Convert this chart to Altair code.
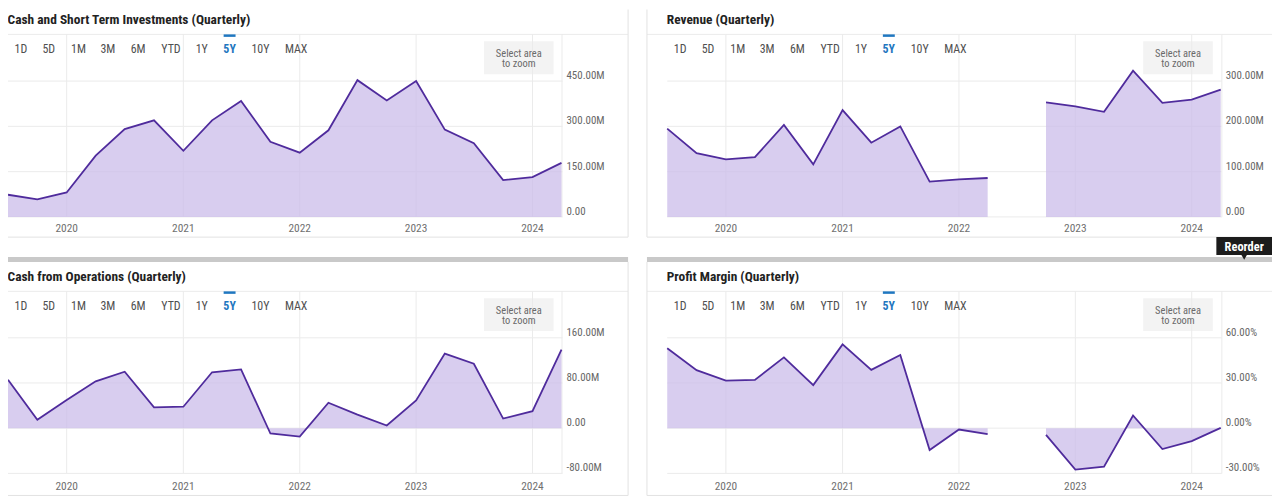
import altair as alt
import pandas as pd

# ---------------- data ----------------
dates = ["2019-07-01", "2019-10-01", "2020-01-01", "2020-04-01", "2020-07-01",
         "2020-10-01", "2021-01-01", "2021-04-01", "2021-07-01", "2021-10-01",
         "2022-01-01", "2022-04-01", "2022-07-01", "2022-10-01", "2023-01-01",
         "2023-04-01", "2023-07-01", "2023-10-01", "2024-01-01", "2024-04-01"]

cash_st = [73.5, 58, 81, 203, 291, 320, 219, 320, 384, 249,
           213, 287, 453, 386, 450, 289, 244, 122, 132, 179]          # M
revenue = [195, 141, 127, 132, 203, 116, 236, 164, 200, 78,
           83, 86, None, 253, 244, 232, 323, 252, 259, 281]           # M
cfo = [85.6, 15, 50, 83, 100, 37, 38, 99, 104, -9.4,
       -15, 45, 24, 4.7, 49, 132, 114, 17, 30, 139]                   # M
margin = [53, 38.5, 31.6, 32, 47, 28.6, 55.6, 38.7, 48.6, -14.5,
          -0.9, -4, None, -4.4, -27.5, -25.5, 8.4, -13.8, -8.6, 0.2]  # %

year_labels = ["2020", "2021", "2022", "2023", "2024"]
year_dates = ["2020-01-01", "2021-01-01", "2022-01-01", "2023-01-01", "2024-01-01"]

cash_ticks = [0, 150, 300, 450]
cash_tick_labels = ["0.00", "150.00M", "300.00M", "450.00M"]
rev_ticks = [0, 100, 200, 300]
rev_tick_labels = ["0.00", "100.00M", "200.00M", "300.00M"]
cfo_ticks = [-80, 0, 80, 160]
cfo_tick_labels = ["-80.00M", "0.00", "80.00M", "160.00M"]
margin_ticks = [-30, 0, 30, 60]
margin_tick_labels = ["-30.00%", "0.00%", "30.00%", "60.00%"]

titles = ["Cash and Short Term Investments (Quarterly)", "Revenue (Quarterly)",
          "Cash from Operations (Quarterly)", "Profit Margin (Quarterly)"]
range_buttons = ["1D", "5D", "1M", "3M", "6M", "YTD", "1Y", "5Y", "10Y", "MAX"]
active_button = "5Y"

# ---------------- style ----------------
NARROW = "'Roboto Condensed', 'Liberation Sans Narrow', 'Arial Narrow', 'DejaVu Sans Condensed', Roboto, sans-serif"
LINE = "#4f2b9c"
FILL = "#cbbcea"
GRID = "#ebebeb"
BORDER = "#e2e2e2"
LBL = "#666666"


def dt(s):
    y, m, d = (int(p) for p in s.split("-"))
    return alt.DateTime(year=y, month=m, date=d, utc=True)


def series_df(vals):
    rows, seg = [], 0
    for d, v in zip(dates, vals):
        if v is None:
            seg += 1
            continue
        rows.append({"d": d, "v": v, "seg": seg})
    return pd.DataFrame(rows)


def make_panel(vals, ydom, ticks, tick_labels, x0, x1, ybot, ytop, grid_top, label_x, xlab_y):
    xs = alt.Scale(type="utc", domain=[dt(dates[0]), dt(dates[-1])], range=[x0, x1])
    ys = alt.Scale(domain=ydom, range=[ybot, ytop], nice=False, zero=False)
    sdf = series_df(vals)
    tdf = pd.DataFrame({"v": ticks, "t": tick_labels})
    ydf = pd.DataFrame({"d": year_dates, "y": year_labels})

    vgrid = alt.Chart(ydf).mark_rule(color=GRID, strokeWidth=1).encode(
        x=alt.X("d:T", scale=xs, axis=None),
        y=alt.value(grid_top), y2=alt.value(ybot))
    hgrid = alt.Chart(tdf).mark_rule(color=GRID, strokeWidth=1).encode(
        y=alt.Y("v:Q", scale=ys, axis=None),
        x=alt.value(x0), x2=alt.value(x1 + 1))
    area = alt.Chart(sdf).mark_area(color=FILL, opacity=0.75).encode(
        x=alt.X("d:T", scale=xs, axis=None),
        y=alt.Y("v:Q", scale=ys, axis=None),
        y2=alt.datum(0),
        detail="seg:N")
    line = alt.Chart(sdf).mark_line(color=LINE, strokeWidth=1.8).encode(
        x=alt.X("d:T", scale=xs, axis=None),
        y=alt.Y("v:Q", scale=ys, axis=None),
        detail="seg:N")
    ylab = alt.Chart(tdf).mark_text(align="left", baseline="middle", dy=-5, font=NARROW,
                                     fontSize=11, color=LBL).encode(
        y=alt.Y("v:Q", scale=ys, axis=None), x=alt.value(label_x), text="t:N")
    xlab = alt.Chart(ydf).mark_text(align="center", baseline="middle", font=NARROW,
                                     fontSize=11.5, color="#707070").encode(
        x=alt.X("d:T", scale=xs, axis=None), y=alt.value(xlab_y), text="y:N")
    return alt.layer(vgrid, hgrid, area, line, ylab, xlab)


# ---------------- panel geometry (content px) ----------------
DX = 663.4
DY = 258.6
LX0, LX1 = 0, 557
TOP_BOT, TOP_TOP = 208.7, 26.4
BOT_BOT, BOT_TOP = 466.8, 284.8

p1 = make_panel(cash_st, [0, 600], cash_ticks, cash_tick_labels, LX0, LX1,
                TOP_BOT, TOP_TOP, 25, 562, 221)
p2 = make_panel(revenue, [0, 400], rev_ticks, rev_tick_labels, LX0 + DX, LX1 + DX,
                TOP_BOT, TOP_TOP, 25, 562 + DX, 221)
p3 = make_panel(cfo, [-80, 240], cfo_ticks, cfo_tick_labels, LX0, LX1,
                BOT_BOT, BOT_TOP, 25 + DY, 562, 480)
p4 = make_panel(margin, [-30, 90], margin_ticks, margin_tick_labels, LX0 + DX, LX1 + DX,
                BOT_BOT, BOT_TOP, 25 + DY, 562 + DX, 480)

# ---------------- decorations ----------------
offsets = [(0, 0), (DX, 0), (0, DY), (DX, DY)]
btn_x = [13, 41, 71, 100.5, 131, 164, 195, 223, 254, 290]

title_rows, btn_rows, act_rows, bar_rows, box_rows, boxtxt_rows = [], [], [], [], [], []
for (ox, oy), t in zip(offsets, titles):
    title_rows.append({"x": ox - 0.5, "y": 15 + oy, "t": t})
    for bx, b in zip(btn_x, range_buttons):
        row = {"x": bx + ox, "y": 40 + oy, "t": b}
        (act_rows if b == active_button else btn_rows).append(row)
    bar_rows.append({"x": 217 + ox, "x2": 229 + ox, "y": 25 + oy, "y2": 27.5 + oy})
    box_rows.append({"x": 479 + ox, "x2": 549 + ox, "y": 32 + oy, "y2": 65 + oy})
    boxtxt_rows.append({"x": 514 + ox, "y": 44.7 + oy, "t": "Select area"})
    boxtxt_rows.append({"x": 514 + ox, "y": 55.3 + oy, "t": "to zoom"})

rule_rows = [
    # separators under titles
    {"x": 0, "x2": 624, "y": 25, "y2": 25, "c": "sep"},
    {"x": 643, "x2": 1272, "y": 25, "y2": 25, "c": "sep"},
    {"x": 0, "x2": 624, "y": 25 + DY, "y2": 25 + DY, "c": "sep"},
    {"x": 643, "x2": 1272, "y": 25 + DY, "y2": 25 + DY, "c": "sep"},
    # panel borders
    {"x": 624, "x2": 624, "y": 0, "y2": 229, "c": "b"},
    {"x": 0, "x2": 624, "y": 229, "y2": 229, "c": "b"},
    {"x": 643, "x2": 643, "y": 0, "y2": 229, "c": "b"},
    {"x": 643, "x2": 1272, "y": 229, "y2": 229, "c": "b"},
    {"x": 624, "x2": 624, "y": 254, "y2": 489, "c": "b"},
    {"x": 0, "x2": 624, "y": 489, "y2": 489, "c": "b"},
    {"x": 643, "x2": 643, "y": 254, "y2": 489, "c": "b"},
    {"x": 643, "x2": 1272, "y": 489, "y2": 489, "c": "b"},
    # plot right edges
    {"x": 557.5, "x2": 557.5, "y": 25, "y2": 209, "c": "sep"},
    {"x": 1221.5, "x2": 1221.5, "y": 25, "y2": 209, "c": "sep"},
    {"x": 557.5, "x2": 557.5, "y": 25 + DY, "y2": 467, "c": "sep"},
    {"x": 1221.5, "x2": 1221.5, "y": 25 + DY, "y2": 467, "c": "sep"},
]
graybar_rows = [
    {"x": 0, "x2": 624, "y": 249, "y2": 254},
    {"x": 643, "x2": 1272, "y": 249, "y2": 254},
]


def X(f="x"):
    return alt.X(f"{f}:Q", scale=None, axis=None)


def Y(f="y"):
    return alt.Y(f"{f}:Q", scale=None, axis=None)


boxes = alt.Chart(pd.DataFrame(box_rows)).mark_rect(color="#f3f3f3").encode(
    x=X(), x2="x2:Q", y=Y(), y2="y2:Q")
graybars = alt.Chart(pd.DataFrame(graybar_rows)).mark_rect(color="#c9c9c9").encode(
    x=X(), x2="x2:Q", y=Y(), y2="y2:Q")
rules = alt.Chart(pd.DataFrame(rule_rows)).mark_rule(strokeWidth=1).encode(
    x=X(), x2="x2:Q", y=Y(), y2="y2:Q",
    color=alt.Color("c:N", scale=alt.Scale(domain=["sep", "b"], range=[GRID, BORDER]), legend=None))
title_txt = alt.Chart(pd.DataFrame(title_rows)).mark_text(
    align="left", baseline="alphabetic", font=NARROW, fontSize=13.5, fontWeight="bold",
    color="#222222").encode(x=X(), y=Y(), text="t:N")
btn_txt = alt.Chart(pd.DataFrame(btn_rows)).mark_text(
    align="center", baseline="middle", font=NARROW, fontSize=12, color="#505050").encode(
    x=X(), y=Y(), text="t:N")
act_txt = alt.Chart(pd.DataFrame(act_rows)).mark_text(
    align="center", baseline="middle", font=NARROW, fontSize=12, fontWeight="bold",
    color="#1f77c0").encode(x=X(), y=Y(), text="t:N")
act_bar = alt.Chart(pd.DataFrame(bar_rows)).mark_rect(color="#1f77c0").encode(
    x=X(), x2="x2:Q", y=Y(), y2="y2:Q")
box_txt = alt.Chart(pd.DataFrame(boxtxt_rows)).mark_text(
    align="center", baseline="middle", font=NARROW, fontSize=10.5, color="#6a6a6a").encode(
    x=X(), y=Y(), text="t:N")

reorder_box = alt.Chart(pd.DataFrame([{"x": 1216, "x2": 1272, "y": 229, "y2": 247}])).mark_rect(
    color="#1c1c1c").encode(x=X(), x2="x2:Q", y=Y(), y2="y2:Q")
reorder_tip = alt.Chart(pd.DataFrame([{"x": 1244, "y": 249}])).mark_point(
    shape="triangle-down", filled=True, size=40, color="#1c1c1c", opacity=1).encode(x=X(), y=Y())
reorder_txt = alt.Chart(pd.DataFrame([{"x": 1244, "y": 238.5, "t": "Reorder"}])).mark_text(
    align="center", baseline="middle", font=NARROW, fontSize=12.5, fontWeight="bold",
    color="white").encode(x=X(), y=Y(), text="t:N")

chart = alt.layer(
    boxes, graybars, rules,
    p1, p2, p3, p4,
    title_txt, btn_txt, act_txt, act_bar, box_txt,
    reorder_box, reorder_tip, reorder_txt,
).resolve_scale(x="independent", y="independent", color="independent").properties(
    width=1272, height=491, autosize=alt.AutoSizeParams(type="none"), padding=0,
    background="white",
).configure_view(stroke=None)

chart.save("out.html", embed_options={"renderer": "svg", "actions": False})
